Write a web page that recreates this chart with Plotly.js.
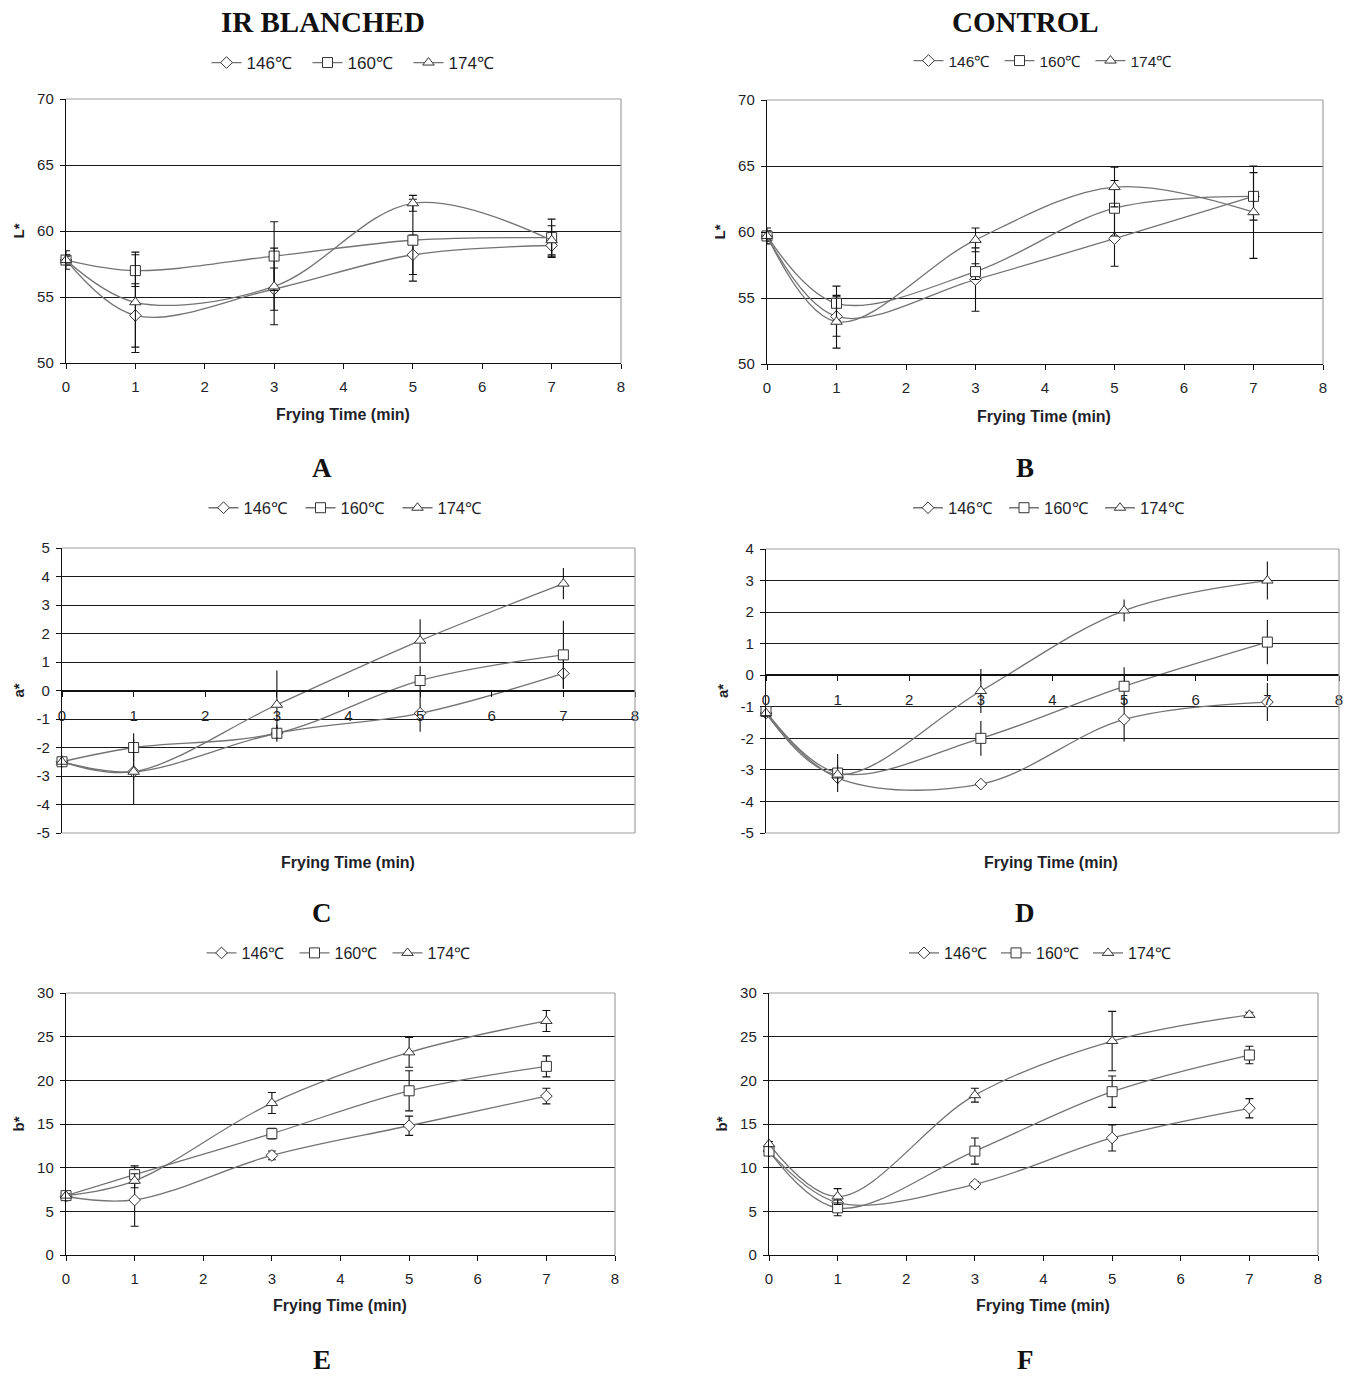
<!DOCTYPE html>
<html>
<head>
<meta charset="utf-8">
<script src="https://cdn.plot.ly/plotly-3.0.1.min.js"></script>
<style>body{margin:0;background:#fff;}#chart{width:1354px;height:1376px;}</style>
</head>
<body>
<div id="chart"></div>
<script>
// ---------------- DATA ----------------
const times = [0, 1, 3, 5, 7];
const seriesNames = ['146\u2103', '160\u2103', '174\u2103'];
const xTicks = [0, 1, 2, 3, 4, 5, 6, 7, 8];

// A: L* IR blanched
const A_146 = [57.8, 53.6, 55.6, 58.2, 58.9];
const A_160 = [57.8, 57.0, 58.1, 59.3, 59.5];
const A_174 = [57.8, 54.6, 55.8, 62.1, 59.3];
const A_146_err = [0.7, 2.4, 1.6, 1.5, 0.9];
const A_160_err = [0.4, 1.2, 2.6, 3.1, 1.4];
const A_174_err = [0.3, 3.8, 2.9, 0.6, 1.1];

// B: L* control
const B_146 = [59.7, 53.6, 56.4, 59.5, 62.7];
const B_160 = [59.7, 54.6, 57.0, 61.8, 62.7];
const B_174 = [59.7, 53.2, 59.4, 63.4, 61.5];
const B_146_err = [0.6, 1.5, 2.4, 2.1, 0.3];
const B_160_err = [0.4, 1.3, 0.6, 2.1, 1.8];
const B_174_err = [0.3, 2.0, 0.9, 1.5, 3.5];

// C: a* IR blanched
const C_146 = [-2.5, -2.85, -1.5, -0.8, 0.6];
const C_160 = [-2.5, -2.0, -1.5, 0.35, 1.25];
const C_174 = [-2.5, -2.85, -0.5, 1.75, 3.75];
const C_146_err = [0.1, 0.3, 0.3, 0.65, 0.5];
const C_160_err = [0.1, 0.5, 0.2, 0.5, 1.2];
const C_174_err = [0.1, 1.15, 1.2, 0.75, 0.55];

// D: a* control
const D_146 = [-1.2, -3.25, -3.45, -1.4, -0.85];
const D_160 = [-1.15, -3.1, -2.0, -0.35, 1.05];
const D_174 = [-1.2, -3.15, -0.5, 2.05, 3.0];
const D_146_err = [0.1, 0.2, 0.1, 0.7, 0.6];
const D_160_err = [0.1, 0.6, 0.55, 0.6, 0.7];
const D_174_err = [0.1, 0.3, 0.7, 0.35, 0.6];

// E: b* IR blanched
const E_146 = [6.7, 6.3, 11.4, 14.8, 18.2];
const E_160 = [6.8, 9.2, 13.9, 18.8, 21.6];
const E_174 = [6.8, 8.5, 17.4, 23.2, 26.8];
const E_146_err = [0.3, 3.0, 0.5, 1.1, 0.9];
const E_160_err = [0.3, 1.0, 0.6, 2.3, 1.2];
const E_174_err = [0.2, 0.8, 1.2, 1.7, 1.2];

// F: b* control
const F_146 = [11.9, 6.0, 8.1, 13.4, 16.8];
const F_160 = [11.9, 5.4, 11.9, 18.7, 22.9];
const F_174 = [12.7, 6.7, 18.3, 24.5, 27.5];
const F_146_err = [0.4, 0.5, 0.3, 1.5, 1.1];
const F_160_err = [0.4, 0.9, 1.5, 1.8, 1.0];
const F_174_err = [0.3, 0.9, 0.8, 3.4, 0.3];

// ---------------- LAYOUT HELPERS ----------------
const W = 1354, H = 1376;
const panels = [
  {id:'', vals:[A_146,A_160,A_174], errs:[A_146_err,A_160_err,A_174_err], yr:[50,70], dt:5, ylab:'L*',
   px:[66,621], py:[99,363], leg:[358,63], lf:17, ew:56, xt:[343,414], letter:'A', lpos:[322,468], cap:4, cross:false},
  {id:'2', vals:[B_146,B_160,B_174], errs:[B_146_err,B_160_err,B_174_err], yr:[50,70], dt:5, ylab:'L*',
   px:[767,1323], py:[100,364], leg:[1045,61], lf:15.5, ew:46, xt:[1044,416], letter:'B', lpos:[1025,468], cap:4, cross:false},
  {id:'3', vals:[C_146,C_160,C_174], errs:[C_146_err,C_160_err,C_174_err], yr:[-5,5], dt:1, ylab:'a*',
   px:[62,635], py:[548,833], leg:[349,508], lf:16.5, ew:52, xt:[348,862], letter:'C', lpos:[322,913], cap:0, cross:true},
  {id:'4', vals:[D_146,D_160,D_174], errs:[D_146_err,D_160_err,D_174_err], yr:[-5,4], dt:1, ylab:'a*',
   px:[766,1339], py:[549,833], leg:[1052,508], lf:16.5, ew:51, xt:[1051,862], letter:'D', lpos:[1025,913], cap:0, cross:true},
  {id:'5', vals:[E_146,E_160,E_174], errs:[E_146_err,E_160_err,E_174_err], yr:[0,30], dt:5, ylab:'b*',
   px:[66,615], py:[993,1255], leg:[341,953], lf:16, ew:48, xt:[340,1305], letter:'E', lpos:[322,1360], cap:4, cross:false},
  {id:'6', vals:[F_146,F_160,F_174], errs:[F_146_err,F_160_err,F_174_err], yr:[0,30], dt:5, ylab:'b*',
   px:[769,1318], py:[993,1255], leg:[1042,953], lf:16, ew:47, xt:[1043,1305], letter:'F', lpos:[1025,1360], cap:4, cross:false}
];
const symbols = ['diamond', 'square', 'triangle-up'];
const msizes = [9, 10, 10];
const lineCol = '#737373';
const txtCol = '#1f1f2a';
const font = 'Liberation Sans, Arial, sans-serif';
const serif = 'Liberation Serif, Times New Roman, serif';

const traces = [];
const layout = {
  width: W, height: H, margin:{l:0,r:0,t:0,b:0},
  paper_bgcolor:'#fff', plot_bgcolor:'#fff', showlegend:true,
  font:{family:font, color:txtCol, size:13},
  annotations:[], shapes:[]
};

panels.forEach((p, i) => {
  const xa = 'xaxis' + p.id, ya = 'yaxis' + p.id;
  const xr = 'x' + p.id, yr = 'y' + p.id;
  const legName = 'legend' + (i === 0 ? '' : (i + 1));
  const xd = [p.px[0]/W, p.px[1]/W];
  const yd = [1 - p.py[1]/H, 1 - p.py[0]/H];

  for (let s = 0; s < 3; s++) {
    traces.push({
      type:'scatter', mode:'lines+markers', x: times, y: p.vals[s], name: seriesNames[s],
      xaxis: xr, yaxis: yr, legend: legName,
      line:{color: lineCol, width: 1.3, shape:'spline', smoothing: 1},
      marker:{symbol: symbols[s], size: msizes[s], color:'#fff', line:{color:'#333', width:1}},
      error_y:{type:'data', array: p.errs[s], visible:true, color:'#111', thickness:1.1, width:p.cap},
      cliponaxis:false
    });
  }

  const yTickVals = [];
  for (let v = p.yr[0]; v <= p.yr[1]; v += p.dt) yTickVals.push(v);

  layout[ya] = {
    domain: yd, anchor: xr, range: p.yr, tickvals: yTickVals, ticktext: yTickVals.map(String),
    showgrid:true, gridcolor:'#1a1a1a', gridwidth:1, zeroline:false,
    showline:true, linecolor:'#111', linewidth:1.2, ticks:'outside', ticklen:5, tickcolor:'#111',
    ticklabelstandoff: 3,
    tickfont:{size:15, color:txtCol, family:font},
    title:{text:'<b>' + p.ylab + '</b>', font:{size:15, color:txtCol, family:font}, standoff: 8},
    fixedrange:true
  };

  const xaxisObj = {
    domain: xd, range:[0,8], tickvals: xTicks, ticktext: xTicks.map(String),
    showgrid:false, zeroline:false, showline:true, linecolor:'#111',
    ticks:'outside', ticklen:5, tickcolor:'#111',
    tickfont:{size:15, color:txtCol, family:font}, fixedrange:true
  };
  if (p.cross) {
    const frac = (0 - p.yr[0]) / (p.yr[1] - p.yr[0]);
    xaxisObj.anchor = 'free';
    xaxisObj.position = yd[0] + frac * (yd[1] - yd[0]);
    xaxisObj.linewidth = 2.2;
    xaxisObj.ticklabelstandoff = 6;
  } else {
    xaxisObj.anchor = yr;
    xaxisObj.linewidth = 1.2;
    xaxisObj.ticklabelstandoff = 5;
  }
  layout[xa] = xaxisObj;

  // gray top / right frame (and bottom for crossed axes)
  const frame = [
    {x0:0, x1:1, y0:1, y1:1},
    {x0:1, x1:1, y0:0, y1:1}
  ];
  if (p.cross) frame.push({x0:0, x1:1, y0:0, y1:0});
  frame.forEach(f => layout.shapes.push({
    type:'line', xref: xr + ' domain', yref: yr + ' domain', x0:f.x0, x1:f.x1, y0:f.y0, y1:f.y1,
    line:{color:'#a0a0a0', width:1.2}, layer:'above'
  }));

  layout[legName] = {
    orientation:'h', x: p.leg[0]/W, xanchor:'center', y: 1 - p.leg[1]/H, yanchor:'middle',
    font:{size:p.lf, color:txtCol, family:font}, bgcolor:'rgba(0,0,0,0)',
    itemwidth:30, entrywidth: p.ew, tracegroupgap:0, itemclick:false
  };

  layout.annotations.push({
    xref:'paper', yref:'paper', x: p.xt[0]/W, y: 1 - p.xt[1]/H, xanchor:'center', yanchor:'middle',
    text:'<b>Frying Time (min)</b>', showarrow:false, font:{size:16, color:txtCol, family:font}
  });
  layout.annotations.push({
    xref:'paper', yref:'paper', x: p.lpos[0]/W, y: 1 - p.lpos[1]/H, xanchor:'center', yanchor:'middle',
    text:'<b>' + p.letter + '</b>', showarrow:false, font:{size:27, color:'#111', family:serif}
  });
});

layout.annotations.push({
  xref:'paper', yref:'paper', x: 323/W, y: 1 - 22/H, xanchor:'center', yanchor:'middle',
  text:'<b>IR BLANCHED</b>', showarrow:false, font:{size:29, color:'#111', family:serif}
});
layout.annotations.push({
  xref:'paper', yref:'paper', x: 1025/W, y: 1 - 22/H, xanchor:'center', yanchor:'middle',
  text:'<b>CONTROL</b>', showarrow:false, font:{size:29, color:'#111', family:serif}
});

Plotly.newPlot('chart', traces, layout, {staticPlot:true, displayModeBar:false});
</script>
</body>
</html>
